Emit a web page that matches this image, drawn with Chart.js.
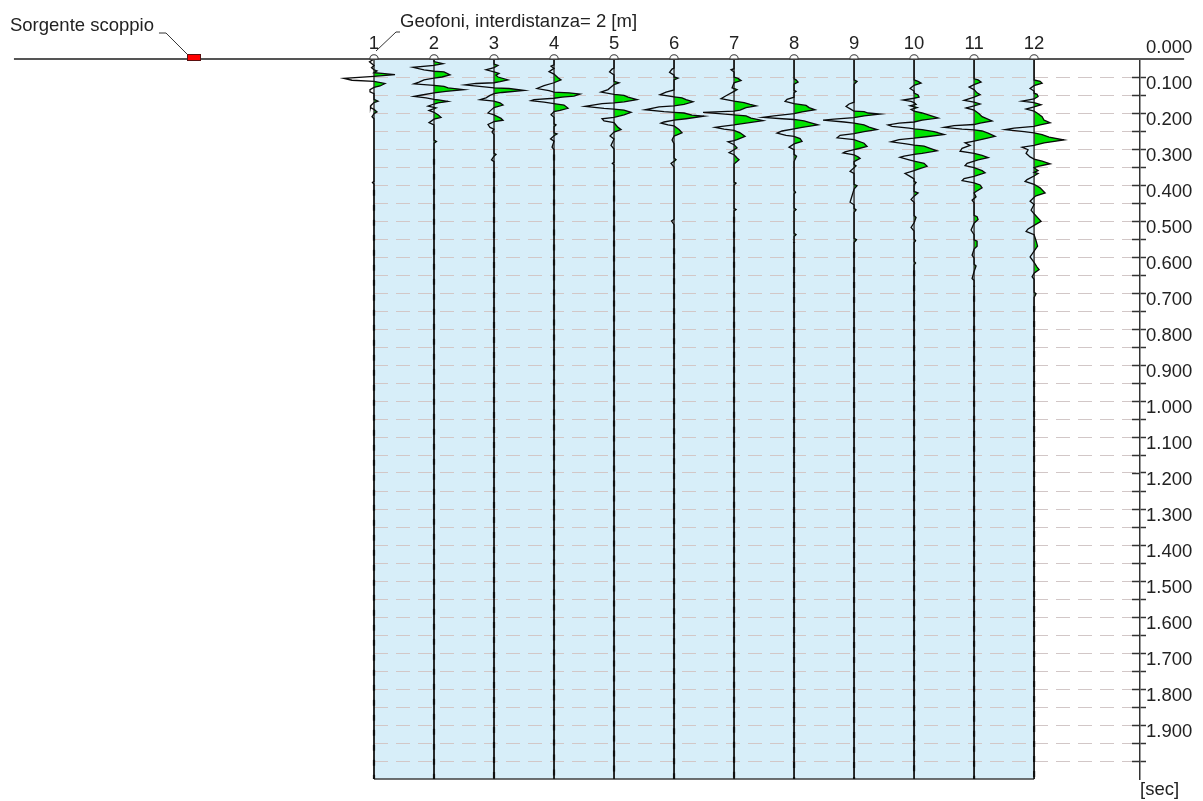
<!DOCTYPE html>
<html>
<head>
<meta charset="utf-8">
<script src="https://cdn.jsdelivr.net/npm/chart.js@4.4.1/dist/chart.umd.min.js"></script>
<style>
  html, body { margin: 0; padding: 0; background: #fff; }
  canvas { display: block; }
</style>
</head>
<body>
<canvas id="seismo" width="1203" height="801"></canvas>
<script>
// geophone layout (m) and time axis (s)
const geophones = ["1", "2", "3", "4", "5", "6", "7", "8", "9", "10", "11", "12"];
const geophonePos = [0, 2, 4, 6, 8, 10, 12, 14, 16, 18, 20, 22];
const sourcePos = -6;
const surfaceEnds = [-12, 27];
const timeMin = 0;
const timeMax = 2.0;
const timeStep = 0.05;

// traces: [time s, amplitude]
const trace1 = [[0,0],[0.008,-4.5],[0.018,0],[0.024,-2.5],[0.030,0],[0.033,3],[0.038,0],[0.040,8],[0.0435,21],[0.048,0],[0.054,-30],[0.059,-22],[0.062,0],[0.068,11],[0.075,6],[0.079,0],[0.085,-4],[0.091,-4],[0.096,0],[0.112,0],[0.117,4],[0.121,0],[0.129,-3],[0.135,-3.5],[0.140,0],[0.147,3],[0.152,0],[0.160,-2],[0.166,0],[0.340,0],[0.343,-1.5],[0.347,0],[2.0,0]];
const trace2 = [[0,0],[0.007,0],[0.013,9],[0.0175,0],[0.023,-21],[0.030,-10],[0.034,0],[0.036,10],[0.044,16],[0.050,8],[0.053,0],[0.058,-10],[0.064,-15],[0.069,-20],[0.073,0],[0.076,10],[0.080,14],[0.085,30],[0.090,12],[0.094,0],[0.100,-12],[0.104,-20],[0.108,-8],[0.112,0],[0.114,6],[0.118,14],[0.122,4],[0.125,0],[0.131,-6],[0.136,2],[0.143,-5],[0.148,0],[0.155,4],[0.162,7],[0.167,0],[0.177,-5],[0.183,0],[0.225,0],[0.229,2.5],[0.234,0],[2.0,0]];
const trace3 = [[0,0],[0.014,0],[0.018,4],[0.024,0],[0.030,-8],[0.036,0],[0.040,5],[0.045,2],[0.050,4],[0.058,14],[0.063,6],[0.066,0],[0.068,-18],[0.072,-29],[0.077,-12],[0.080,0],[0.082,15],[0.087,30],[0.093,8],[0.096,0],[0.101,-4],[0.108,-8],[0.113,-14],[0.117,0],[0.122,6],[0.128,9],[0.135,0],[0.142,-3],[0.150,-6],[0.155,0],[0.165,7],[0.170,9],[0.174,0],[0.182,-6],[0.190,-4],[0.195,0],[0.203,-2],[0.210,0],[0.262,0],[0.265,2],[0.270,0],[0.280,-2.5],[0.285,0],[2.0,0]];
const trace4 = [[0,0],[0.016,0],[0.020,-3],[0.026,0],[0.035,-5],[0.042,0],[0.052,4],[0.058,7],[0.066,0],[0.074,-10],[0.082,-17],[0.088,-5],[0.092,0],[0.094,15],[0.0975,26],[0.103,20],[0.106,8],[0.109,0],[0.113,-20],[0.116,-23],[0.120,-10],[0.124,0],[0.128,10],[0.137,14],[0.143,6],[0.146,0],[0.155,-3],[0.162,0],[0.180,0],[0.183,2],[0.188,0],[0.205,0],[0.208,3],[0.213,0],[0.222,-3.5],[0.228,0],[0.245,-2],[0.252,0],[2.0,0]];
const trace5 = [[0,0],[0.025,0],[0.028,-2],[0.036,-4.5],[0.044,0],[0.062,0],[0.066,5],[0.071,0],[0.085,-6],[0.092,-13],[0.098,0],[0.101,10],[0.106,14],[0.113,23],[0.119,10],[0.122,0],[0.124,-12],[0.1315,-29],[0.137,-10],[0.139,0],[0.142,10],[0.148,17],[0.155,10],[0.162,0],[0.166,-12],[0.172,-10],[0.177,0],[0.190,4],[0.196,7],[0.203,0],[0.214,-4],[0.222,0],[0.240,-3],[0.250,0],[0.287,0],[0.290,-1.7],[0.294,0],[2.0,0]];
const trace6 = [[0,0],[0.025,0],[0.028,-2],[0.037,-4.5],[0.045,0],[0.050,0],[0.053,4],[0.058,0],[0.086,0],[0.092,-8],[0.099,-14],[0.105,0],[0.108,8],[0.113,12],[0.119,19],[0.126,10],[0.130,0],[0.133,-15],[0.141,-29],[0.146,-10],[0.148,0],[0.150,10],[0.156,18],[0.159,30],[0.166,12],[0.170,0],[0.175,-10],[0.178,-13],[0.183,-6],[0.186,0],[0.196,5],[0.205,8],[0.211,3],[0.214,0],[0.225,-2],[0.235,0],[0.275,0],[0.280,2],[0.290,-3],[0.300,0],[0.445,0],[0.450,-2.5],[0.460,0],[2.0,0]];
const trace7 = [[0,0],[0.027,0],[0.030,-3],[0.036,0],[0.050,0],[0.054,4],[0.060,7],[0.066,0],[0.080,-2],[0.085,3],[0.090,0],[0.102,-8],[0.110,-13],[0.117,0],[0.121,10],[0.126,16],[0.130,22],[0.135,12],[0.142,6],[0.145,0],[0.148,-31],[0.152,-15],[0.155,0],[0.158,12],[0.164,17],[0.171,29],[0.178,12],[0.183,0],[0.187,-12],[0.190,-19],[0.195,-10],[0.198,0],[0.205,6],[0.215,11],[0.224,3],[0.227,0],[0.230,-6],[0.238,0],[0.247,3],[0.252,0],[0.260,-5],[0.266,0],[0.275,3],[0.280,5],[0.292,0],[0.342,0],[0.345,2],[0.350,0],[0.415,0],[0.418,2],[0.422,0],[2.0,0]];
const trace8 = [[0,0],[0.055,0],[0.058,2],[0.064,4],[0.070,0],[0.087,0],[0.090,2],[0.094,0],[0.106,0],[0.112,-7],[0.118,-9],[0.124,0],[0.129,12],[0.135,15],[0.141,21],[0.147,8],[0.152,0],[0.158,-20],[0.162,-31],[0.166,-12],[0.168,0],[0.172,10],[0.176,15],[0.183,24],[0.190,8],[0.194,0],[0.200,-12],[0.206,-17],[0.212,-8],[0.215,0],[0.221,6],[0.229,8],[0.236,0],[0.245,-5],[0.252,0],[0.265,0],[0.270,2.5],[0.285,0],[0.365,0],[0.370,1.5],[0.375,0],[0.414,0],[0.418,2],[0.423,0],[0.484,0],[0.488,2],[0.493,0],[2.0,0]];
const trace9 = [[0,0],[0.058,0],[0.062,3],[0.070,0],[0.120,0],[0.125,-5],[0.132,-8],[0.140,-3],[0.145,0],[0.146,10],[0.150,14],[0.153,26],[0.158,10],[0.163,0],[0.167,-20],[0.170,-31],[0.175,-10],[0.178,0],[0.183,10],[0.189,15],[0.196,23],[0.202,10],[0.207,0],[0.212,-14],[0.219,-17],[0.224,0],[0.234,10],[0.243,13],[0.250,3],[0.252,0],[0.258,-9],[0.261,-11],[0.266,0],[0.272,4],[0.276,6],[0.285,0],[0.293,0],[0.297,2],[0.302,0],[0.312,-4],[0.318,0],[0.348,0],[0.352,3],[0.361,0],[0.398,-4],[0.405,0],[0.415,0],[0.419,2],[0.426,0],[0.498,0],[0.502,2.5],[0.510,0],[2.0,0]];
const trace10 = [[0,0],[0.058,0],[0.062,4],[0.067,7],[0.073,0],[0.082,-4],[0.089,0],[0.095,0],[0.100,4],[0.106,5],[0.109,0],[0.114,-11],[0.118,-3],[0.121,0],[0.126,2],[0.130,-4],[0.135,3],[0.140,-3],[0.145,0],[0.150,8],[0.156,15],[0.164,24],[0.170,8],[0.175,0],[0.178,-15],[0.183,-26],[0.187,-22],[0.192,-5],[0.194,0],[0.196,8],[0.202,20],[0.210,30],[0.216,12],[0.220,0],[0.224,-15],[0.230,-23],[0.236,-8],[0.239,0],[0.242,10],[0.248,16],[0.255,23],[0.262,8],[0.265,0],[0.270,-10],[0.273,-14],[0.280,-5],[0.284,0],[0.290,10],[0.298,13],[0.305,5],[0.310,0],[0.318,-9],[0.326,-4],[0.333,0],[0.340,0],[0.343,2],[0.350,0],[0.368,0],[0.372,4],[0.381,0],[0.390,-3],[0.398,0],[0.435,0],[0.440,2],[0.455,0],[0.468,-3],[0.478,0],[0.500,0],[0.505,1.5],[0.510,0],[0.562,0],[0.567,1.5],[0.572,0],[2.0,0]];
const trace11 = [[0,0],[0.055,0],[0.058,4],[0.064,7],[0.071,0],[0.078,-5],[0.085,0],[0.094,3],[0.099,6],[0.106,0],[0.115,-10],[0.120,0],[0.125,6],[0.130,0],[0.136,-8],[0.142,0],[0.146,2],[0.152,5],[0.160,8],[0.172,18],[0.178,6],[0.182,0],[0.185,-20],[0.190,-30],[0.195,-12],[0.197,0],[0.200,8],[0.206,14],[0.215,21],[0.222,10],[0.228,0],[0.233,-9],[0.240,-4],[0.248,-12],[0.256,-14],[0.262,0],[0.268,8],[0.274,14],[0.280,4],[0.284,0],[0.290,-7],[0.296,-9],[0.302,0],[0.310,8],[0.316,11],[0.323,3],[0.326,0],[0.332,-10],[0.338,-12],[0.344,0],[0.350,6],[0.358,8],[0.368,2],[0.372,0],[0.383,2],[0.392,-2],[0.400,0],[0.434,0],[0.438,3],[0.446,4],[0.456,0],[0.475,-3],[0.488,0],[0.502,0],[0.506,3],[0.520,3],[0.528,0],[0.545,-2],[0.553,0],[0.570,0],[0.575,2],[0.590,0],[0.610,-2],[0.615,0],[2.0,0]];
const trace12 = [[0,0],[0.058,0],[0.062,6],[0.067,8],[0.074,0],[0.082,-4],[0.089,0],[0.095,0],[0.098,3],[0.104,4],[0.111,0],[0.117,-12],[0.121,0],[0.127,7],[0.133,0],[0.139,-8],[0.145,0],[0.150,3],[0.160,8],[0.170,10],[0.177,16],[0.183,6],[0.187,0],[0.192,-20],[0.196,-29],[0.202,-10],[0.205,0],[0.210,8],[0.217,15],[0.225,30],[0.233,10],[0.240,0],[0.245,-12],[0.252,-6],[0.262,-8],[0.272,-4],[0.278,0],[0.284,8],[0.291,16],[0.298,4],[0.302,0],[0.310,4],[0.315,0],[0.318,4],[0.325,0],[0.335,-7],[0.340,-9],[0.348,0],[0.358,6],[0.372,11],[0.380,2],[0.384,0],[0.395,-4],[0.404,0],[0.420,-3],[0.430,0],[0.442,4],[0.451,7],[0.462,0],[0.472,-6],[0.479,-8],[0.488,0],[0.505,2],[0.520,3.5],[0.534,0],[0.550,-4],[0.565,0],[0.578,3],[0.585,5],[0.595,0],[0.605,-2],[0.612,0],[0.648,0],[0.652,2],[0.662,0],[2.0,0]];
const traces = [trace1, trace2, trace3, trace4, trace5, trace6, trace7, trace8, trace9, trace10, trace11, trace12];

const AMP_GAIN = 1 / 30;   // amplitude unit -> metres of offset on the section
const FONT = '"Liberation Sans", Arial, sans-serif';
const INK = "#222";
const WIGGLE_FILL = "#00e400";
const PANEL_BLUE = "#d7eef9";

Chart.defaults.font.family = FONT;
Chart.defaults.font.size = 18.5;
Chart.defaults.color = INK;

function makeGeoMarker() {
  const c = document.createElement("canvas");
  c.width = 12; c.height = 12;
  const g = c.getContext("2d");
  g.beginPath();
  g.arc(6, 6, 4.2, Math.PI, 2 * Math.PI);
  g.closePath();
  g.fillStyle = "#fff";
  g.fill();
  g.strokeStyle = "#333";
  g.lineWidth = 1.1;
  g.stroke();
  return c;
}

function makeSourceMarker() {
  const c = document.createElement("canvas");
  c.width = 16; c.height = 12;
  const g = c.getContext("2d");
  g.fillStyle = "#ff0000";
  g.fillRect(1.5, 1.5, 13, 6);
  g.strokeStyle = "#5a1010";
  g.lineWidth = 1;
  g.strokeRect(1.5, 1.5, 13, 6);
  return c;
}

const inAxisRange = v => v > timeMin + 0.001 && v < timeMax - 0.001;

const datasets = [];

// top layer: source + geophone markers, surface line
datasets.push({
  data: [{ x: sourcePos, y: 0 }],
  pointStyle: makeSourceMarker(),
  pointRadius: 200,
  showLine: false,
  clip: false,
  order: 0
});
datasets.push({
  data: geophonePos.map(g => ({ x: g, y: 0 })),
  pointStyle: makeGeoMarker(),
  pointRadius: 5,
  showLine: false,
  clip: false,
  order: 0
});
datasets.push({
  data: surfaceEnds.map(x => ({ x: x, y: 0 })),
  showLine: true,
  borderColor: "#555",
  borderWidth: 2,
  pointRadius: 0,
  clip: false,
  order: 1
});
datasets.push({
  data: [{ x: geophonePos[0], y: timeMax }, { x: geophonePos[geophonePos.length - 1], y: timeMax }],
  showLine: true,
  borderColor: "#404040",
  borderWidth: 1.5,
  pointRadius: 0,
  clip: false,
  order: 3
});

traces.forEach((tr, i) => {
  const g = geophonePos[i];
  // wiggle line
  datasets.push({
    data: tr.map(([t, a]) => ({ x: g + a * AMP_GAIN, y: t })),
    showLine: true,
    borderColor: "#0a0a0a",
    borderWidth: 1.3,
    pointRadius: 0,
    clip: false,
    order: 2
  });
  // low-level noise tail after the last recorded swing (drawn as a broken heavy line)
  const quiet = tr.filter(([, a]) => a !== 0).pop()[0];
  datasets.push({
    data: [{ x: g, y: quiet + 0.02 }, { x: g, y: timeMax }],
    showLine: true,
    borderColor: "#1c1c1c",
    borderWidth: 2.2,
    borderDash: [6, 9],
    borderDashOffset: i * 5,
    pointRadius: 0,
    clip: false,
    order: 2
  });
  // trace baseline
  datasets.push({
    data: [{ x: g, y: timeMin }, { x: g, y: timeMax }],
    showLine: true,
    borderColor: "#3c3c3c",
    borderWidth: 1.5,
    pointRadius: 0,
    clip: false,
    order: 3
  });
  // variable-area fill (positive half only)
  datasets.push({
    data: tr.map(([t, a]) => ({ x: g + Math.max(a, 0) * AMP_GAIN, y: t })),
    showLine: true,
    borderWidth: 0,
    pointRadius: 0,
    backgroundColor: WIGGLE_FILL,
    fill: "shape",
    order: 4
  });
});

const sectionPlugin = {
  id: "section",
  beforeDraw(chart) {
    const { ctx, scales: { x, y } } = chart;
    const x0 = x.getPixelForValue(geophonePos[0]);
    const x1 = x.getPixelForValue(geophonePos[geophonePos.length - 1]);
    const y0 = y.getPixelForValue(timeMin);
    const y1 = y.getPixelForValue(timeMax);
    ctx.save();
    ctx.fillStyle = PANEL_BLUE;
    ctx.fillRect(x0, y0, x1 - x0, y1 - y0);
    ctx.restore();
  },
  afterDraw(chart) {
    const { ctx, scales: { x, y } } = chart;
    const top = y.getPixelForValue(0);
    const sx = x.getPixelForValue(sourcePos);
    const gx = x.getPixelForValue(geophonePos[0]);
    ctx.save();
    ctx.fillStyle = INK;
    ctx.strokeStyle = "#333";
    ctx.lineWidth = 1;
    ctx.font = "18.5px " + FONT;
    ctx.textBaseline = "alphabetic";
    ctx.textAlign = "left";

    // source label + leader
    ctx.fillText("Sorgente scoppio", sx - 184, top - 28);
    ctx.beginPath();
    ctx.moveTo(sx - 35, top - 26);
    ctx.lineTo(sx - 28, top - 26);
    ctx.lineTo(sx - 7, top - 5);
    ctx.stroke();

    // geophone spread label + leader
    ctx.fillText("Geofoni, interdistanza= 2 [m]", gx + 26, top - 32);
    ctx.beginPath();
    ctx.moveTo(gx + 2, top - 8);
    ctx.lineTo(gx + 22, top - 27);
    ctx.lineTo(gx + 26, top - 27);
    ctx.stroke();

    // inner half of the time-axis ticks
    const ax = y.left;
    ctx.strokeStyle = "#333";
    ctx.lineWidth = 1.5;
    y.ticks.forEach(tk => {
      if (!inAxisRange(tk.value)) return;
      const py = Math.round(y.getPixelForValue(tk.value)) + 0.5;
      ctx.beginPath();
      ctx.moveTo(ax - 8, py);
      ctx.lineTo(ax, py);
      ctx.stroke();
    });

    ctx.fillText("[sec]", ax, y.getPixelForValue(timeMax) + 16);
    ctx.restore();
  }
};

new Chart(document.getElementById("seismo"), {
  type: "scatter",
  data: { datasets: datasets },
  options: {
    responsive: false,
    animation: false,
    events: [],
    devicePixelRatio: 1,
    layout: { autoPadding: false, padding: { left: 374, right: 0, top: 0, bottom: 22 } },
    plugins: { legend: { display: false }, tooltip: { enabled: false } },
    scales: {
      x: {
        type: "linear",
        position: "top",
        min: 0,
        max: 25.53,
        afterFit(scale) { scale.height = 59; },
        afterBuildTicks(scale) { scale.ticks = geophonePos.map(v => ({ value: v })); },
        grid: { display: false, drawTicks: false },
        border: { display: false },
        ticks: {
          autoSkip: false,
          maxRotation: 0,
          padding: 4,
          color: INK,
          callback: (v, i) => geophones[i]
        }
      },
      y: {
        type: "linear",
        position: "right",
        reverse: true,
        min: timeMin,
        max: timeMax,
        afterFit(scale) { scale.width = 63; },
        grid: {
          color: c => (c.tick && inAxisRange(c.tick.value)) ? "#d2c7c7" : "rgba(0,0,0,0)",
          lineWidth: 1,
          tickColor: c => (c.tick && inAxisRange(c.tick.value)) ? "#333" : "rgba(0,0,0,0)",
          tickWidth: 1.5,
          tickLength: 6
        },
        border: { display: true, color: "#333", width: 1.5, dash: [14, 8] },
        ticks: {
          stepSize: timeStep,
          maxTicksLimit: 100,
          autoSkip: false,
          padding: 0,
          labelOffset: -11,
          color: INK,
          callback: v => {
            const ms = Math.round(v * 1000);
            return (ms % 100 === 0 && ms < timeMax * 1000) ? (ms / 1000).toFixed(3) : "";
          }
        }
      }
    }
  },
  plugins: [sectionPlugin]
});
</script>
</body>
</html>
